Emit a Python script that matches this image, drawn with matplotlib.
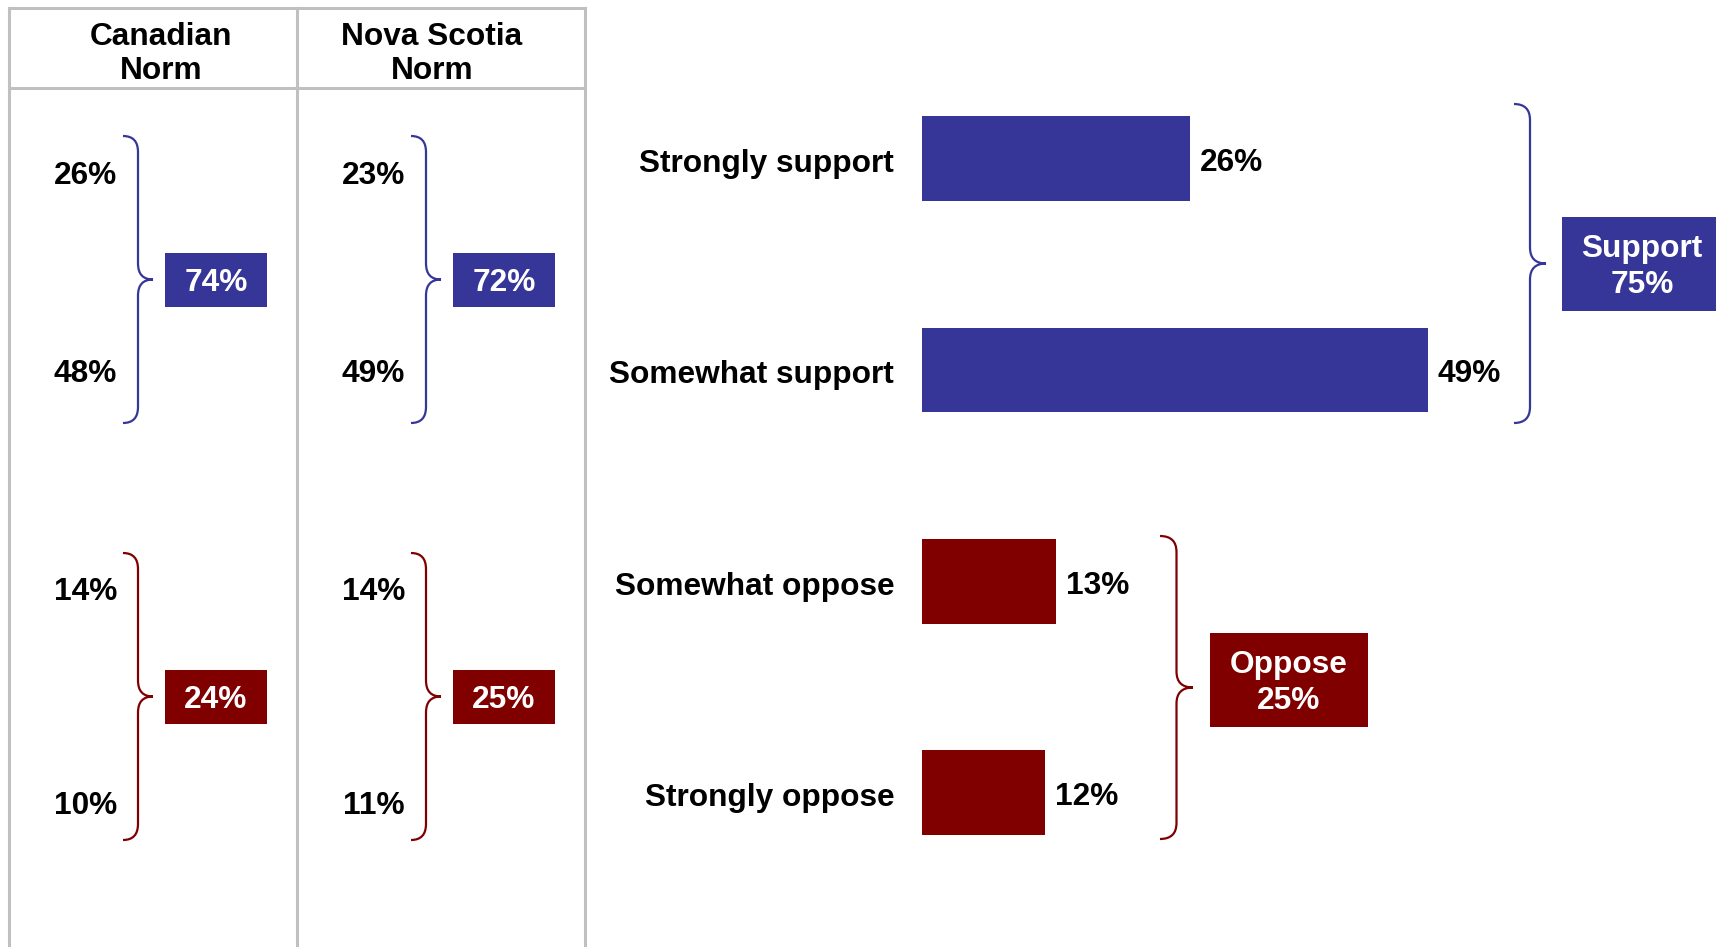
import matplotlib
matplotlib.use("Agg")
import matplotlib.pyplot as plt
from matplotlib.path import Path
from matplotlib.patches import PathPatch, Rectangle

plt.rcParams['font.family'] = ['Liberation Sans', 'DejaVu Sans']
plt.rcParams['font.weight'] = 'bold'

# survey results
categories = ["Strongly support", "Somewhat support", "Somewhat oppose", "Strongly oppose"]
values = [26, 49, 13, 12]
support_total = 75
oppose_total = 25

# comparison norms
norm_names = ["Canadian\nNorm", "Nova Scotia\nNorm"]
norm_values = [[26, 48, 14, 10], [23, 49, 14, 11]]
norm_support = [74, 72]
norm_oppose = [24, 25]

BLUE = "#363698"
RED = "#800000"
GRID = "#c0c0c0"
FS = 22.8

W, H = 1716, 947
fig = plt.figure(figsize=(W / 100, H / 100), dpi=100)

# overlay axes in pixel units for table, braces and boxes
ov = fig.add_axes([0, 0, 1, 1])
ov.set_xlim(0, W)
ov.set_ylim(H, 0)
ov.axis("off")


def brace(ax, x, y0, y1, w, color, r=16):
    xm = x + w / 2
    ym = (y0 + y1) / 2
    verts = [(x, y0), (xm, y0), (xm, y0 + r),
             (xm, ym - r), (xm, ym), (x + w, ym),
             (xm, ym), (xm, ym + r),
             (xm, y1 - r), (xm, y1), (x, y1)]
    codes = [Path.MOVETO, Path.CURVE3, Path.CURVE3,
             Path.LINETO, Path.CURVE3, Path.CURVE3,
             Path.CURVE3, Path.CURVE3,
             Path.LINETO, Path.CURVE3, Path.CURVE3]
    ax.add_patch(PathPatch(Path(verts, codes), fill=False, ec=color, lw=1.6))


def box(ax, x0, y0, x1, y1, color, label):
    ax.add_patch(Rectangle((x0, y0), x1 - x0, y1 - y0, color=color, lw=0))
    ax.text((x0 + x1) / 2, (y0 + y1) / 2 + 3, label, color="white", fontsize=FS,
            ha="center", va="center", linespacing=1.25)


# table grid
for xl in [9, 297, 585]:
    ov.plot([xl, xl], [8, H + 5], color=GRID, lw=2.2)
ov.plot([9, 585], [8, 8], color=GRID, lw=2.2)
ov.plot([9, 585], [88, 88], color=GRID, lw=2.2)

header_x = [161, 432]
col_offsets = [0, 288]
row_y = [176, 374, 592, 806]
for i, name in enumerate(norm_names):
    dx = col_offsets[i]
    ov.text(header_x[i], 54, name, ha="center", va="center", fontsize=FS, linespacing=1.15)
    for v, y in zip(norm_values[i], row_y):
        ov.text(117 + dx, y, f"{v}%", ha="right", va="center", fontsize=FS)
    brace(ov, 123 + dx, 136, 423, 30, BLUE)
    box(ov, 165 + dx, 253, 267 + dx, 307, BLUE, f"{norm_support[i]}%")
    brace(ov, 123 + dx, 553, 840, 30, RED)
    box(ov, 165 + dx, 670, 267 + dx, 724, RED, f"{norm_oppose[i]}%")

# horizontal bars
x0_px, px_per_pct = 921.5, 10.33
row_px, top_px = 211.3, 158.7
ax = fig.add_axes([x0_px / W, 1 - (top_px + 3.5 * row_px) / H,
                   50 * px_per_pct / W, 4 * row_px / H])
ax.patch.set_alpha(0)
ypos = range(len(categories))
colors = [BLUE, BLUE, RED, RED]
ax.barh(ypos, values, height=0.4, color=colors)
ax.set_xlim(0, 50)
ax.set_ylim(3.5, -0.5)
ax.axis("off")
for y, (cat, v) in enumerate(zip(categories, values)):
    ax.text(-2.65, y + 0.026, cat, ha="right", va="center", fontsize=FS)
    ax.text(v + 0.95, y + 0.02, f"{v}%", ha="left", va="center", fontsize=FS)

# summary braces
brace(ov, 1514, 104, 423, 32, BLUE)
box(ov, 1562, 217, 1722, 311, BLUE, f"Support\n{support_total}%")
brace(ov, 1160, 536, 839, 33, RED)
box(ov, 1210, 633, 1368, 727, RED, f"Oppose\n{oppose_total}%")

fig.savefig("out.png", dpi=100)
